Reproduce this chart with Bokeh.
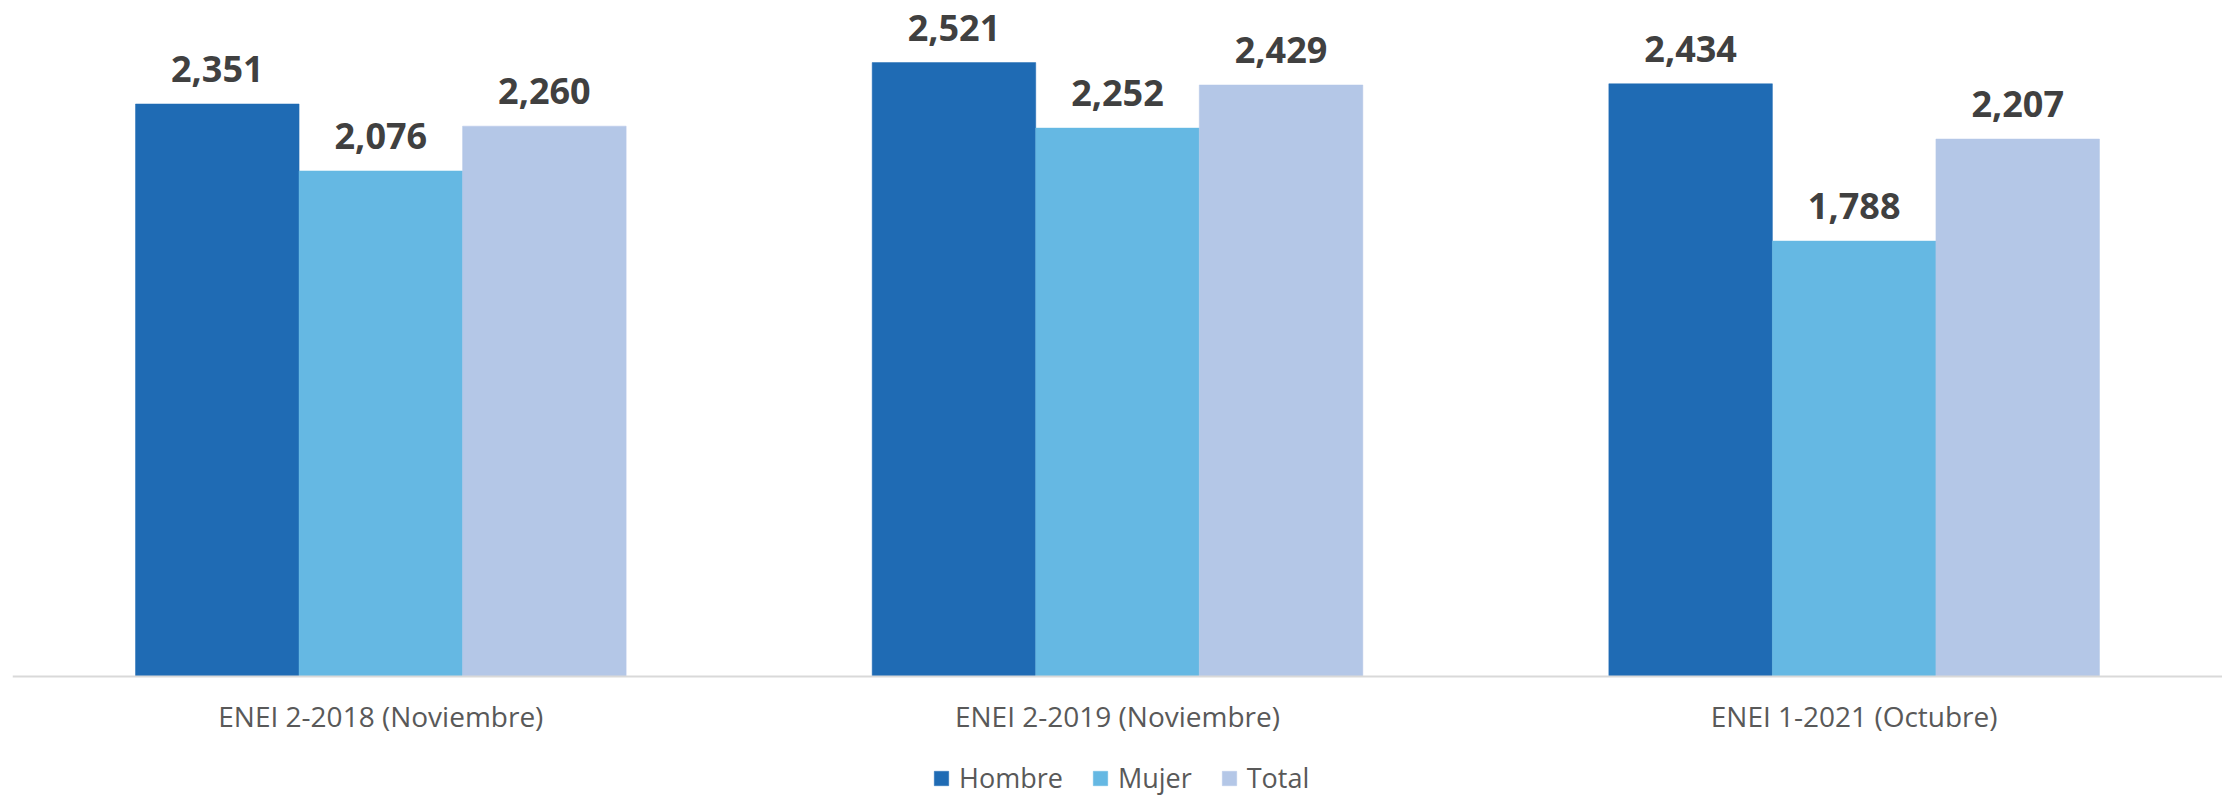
from bokeh.plotting import figure
from bokeh.models import ColumnDataSource, LabelSet, Legend, LegendItem, FactorRange, Range1d
from bokeh.core.properties import value
from bokeh.transform import dodge
from bokeh.embed import file_html
from bokeh.resources import INLINE

categories = ["ENEI 2-2018 (Noviembre)", "ENEI 2-2019 (Noviembre)", "ENEI 1-2021 (Octubre)"]
hombre = [2351, 2521, 2434]
mujer = [2076, 2252, 1788]
total = [2260, 2429, 2207]
series_names = ["Hombre", "Mujer", "Total"]
colors = ["#1F6BB4", "#65B8E3", "#B4C7E7"]

data = dict(cat=categories, Hombre=hombre, Mujer=mujer, Total=total)
for s in series_names:
    data[s + "_lbl"] = [f"{v:,}" for v in data[s]]
source = ColumnDataSource(data)

p = figure(x_range=FactorRange(*categories, range_padding=0), y_range=Range1d(-492.8, 2776),
           width=2222, height=796,
           output_backend="svg", toolbar_location=None,
           min_border_left=12, min_border_right=0, min_border_top=0, min_border_bottom=0)

bw = 0.222
offsets = [-bw, 0.0, bw]
items = []
for s, c, off in zip(series_names, colors, offsets):
    r = p.vbar(x=dodge("cat", off, range=p.x_range), top=s, width=bw, source=source,
               fill_color=c, line_color=c, line_width=0.5)
    items.append(LegendItem(label=s, renderers=[r]))
    lbl = LabelSet(x=dodge("cat", off, range=p.x_range), y=s, text=s + "_lbl", source=source,
                   text_align="center", text_baseline="alphabetic", y_offset=22,
                   text_font=value("Open Sans"), text_font_style="bold",
                   text_font_size=value("36px"), text_color="#404040")
    p.add_layout(lbl)

p.yaxis.visible = False
p.xgrid.grid_line_color = None
p.ygrid.grid_line_color = None
p.outline_line_color = None

ax = p.xaxis[0]
ax.fixed_location = 0
ax.axis_line_color = "#D9D9D9"
ax.axis_line_width = 2
ax.major_tick_line_color = None
ax.minor_tick_line_color = None
ax.major_tick_out = 0
ax.major_tick_in = 0
ax.major_label_standoff = 21
ax.major_label_text_font = "Open Sans"
ax.major_label_text_font_size = "28px"
ax.major_label_text_color = "#595959"

legend = Legend(items=items, orientation="horizontal", location=(920, 0),
                glyph_width=18, glyph_height=18, label_standoff=9, spacing=28,
                label_text_font="Open Sans", label_text_font_size="27px",
                label_text_color="#595959", border_line_color=None,
                background_fill_alpha=0, margin=0, padding=0)
p.add_layout(legend)

open("out.html", "w").write(file_html(p, INLINE))
